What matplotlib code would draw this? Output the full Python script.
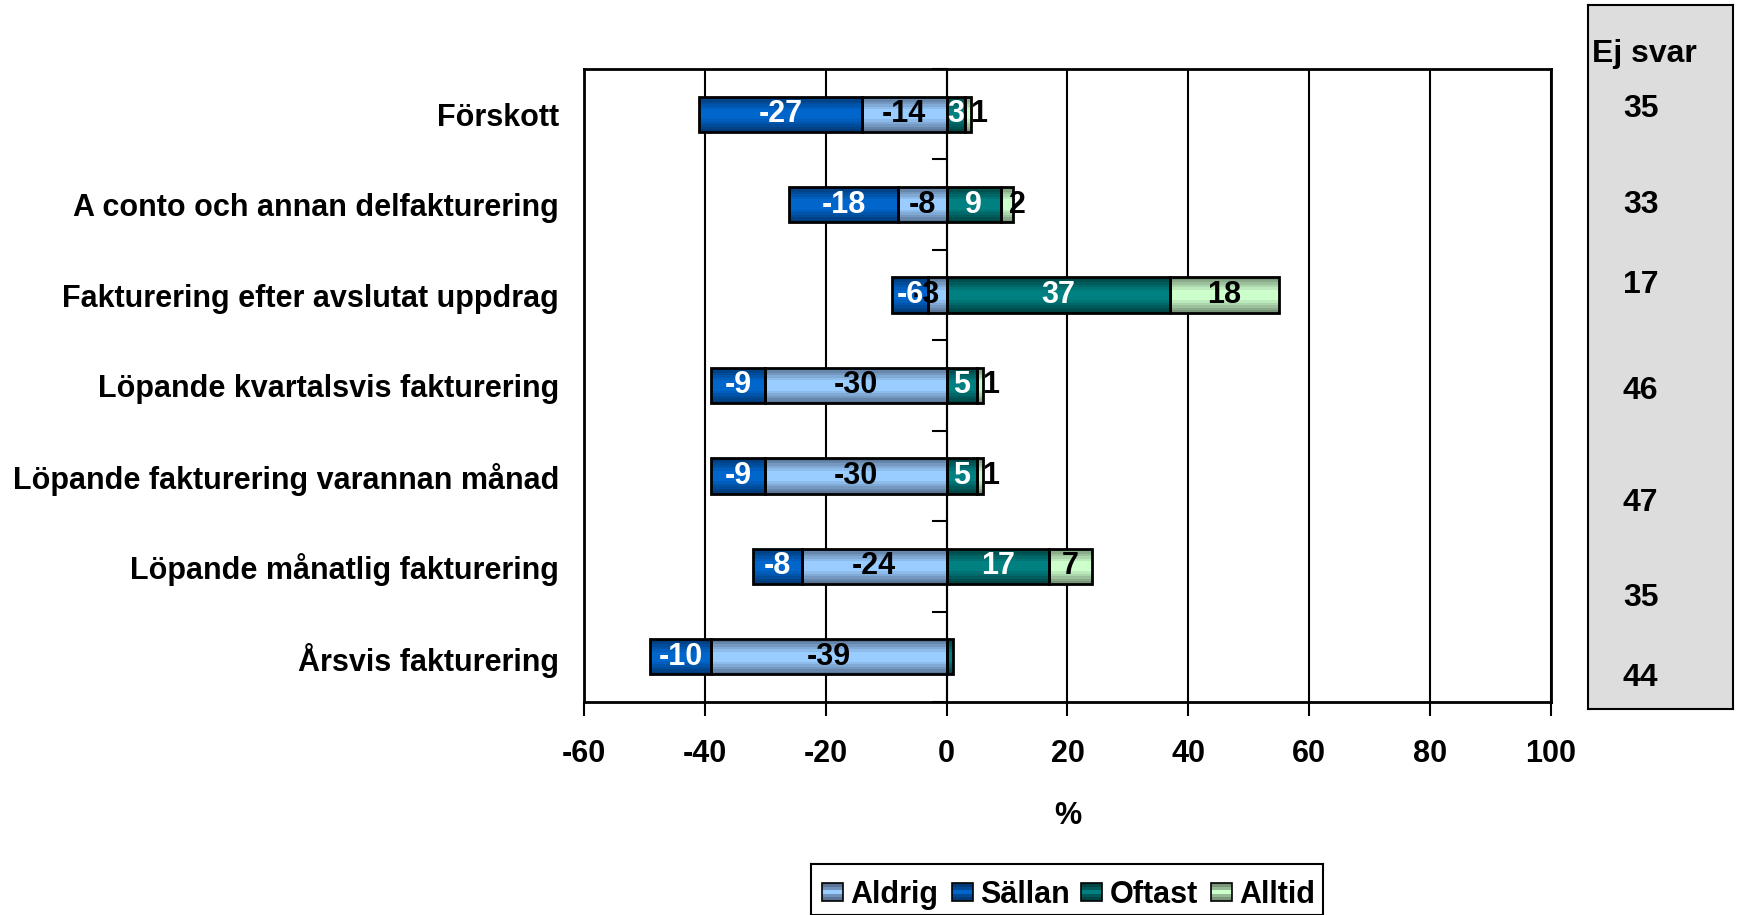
import numpy as np
import matplotlib.pyplot as plt
from matplotlib.patches import Rectangle
from matplotlib.colors import to_rgb

plt.rcParams['font.family'] = ['Liberation Sans', 'DejaVu Sans']
plt.rcParams['font.weight'] = 'bold'

categories = ['Förskott', 'A conto och annan delfakturering',
              'Fakturering efter avslutat uppdrag', 'Löpande kvartalsvis fakturering',
              'Löpande fakturering varannan månad', 'Löpande månatlig fakturering',
              'Årsvis fakturering']
aldrig = [-14, -8, -3, -30, -30, -24, -39]
sallan = [-27, -18, -6, -9, -9, -8, -10]
oftast = [3, 9, 37, 5, 5, 17, 1]
alltid = [1, 2, 18, 1, 1, 7, 0]
ej_svar = [35, 33, 17, 46, 47, 35, 44]
xticks = [-60, -40, -20, 0, 20, 40, 60, 80, 100]

# edge colour, centre colour, label colour
styles = {
    'Aldrig': ('#5b7596', '#99ccff', 'black'),
    'Sällan': ('#003a78', '#0066cc', 'white'),
    'Oftast': ('#004444', '#008080', 'white'),
    'Alltid': ('#7a967a', '#ccffcc', 'black'),
}


def shade(edge, centre, t):
    e, c = np.array(to_rgb(edge)), np.array(to_rgb(centre))
    return tuple(e + (c - e) * t)


def grad_barh(ax, y, width, left, h, name):
    edge, centre, _ = styles[name]
    steps = 6
    for i in range(steps):
        frac = 1 - i / steps * 0.85
        ax.barh(y, width, left=left, height=h * frac,
                color=shade(edge, centre, i / (steps - 1)), lw=0, zorder=3)
    ax.barh(y, width, left=left, height=h, fill=False,
            edgecolor='black', lw=2, zorder=4)


fig = plt.figure(figsize=(17.38, 9.15), dpi=100)
ax = fig.add_axes([0.336, 0.2328, 0.5564, 0.6918])

y = np.arange(len(categories))[::-1]
h = 0.39
zero = np.zeros(len(categories))
series = [('Aldrig', aldrig, zero), ('Sällan', sallan, np.array(aldrig)),
          ('Oftast', oftast, zero), ('Alltid', alltid, np.array(oftast))]

for name, vals, base in series:
    for yi, v, b in zip(y, vals, base):
        if v == 0:
            continue
        grad_barh(ax, yi, v, b, h, name)
        # the tiny Oftast sliver on the last row has no label in the original
        if name == 'Oftast' and abs(v) < 2 and yi == 0:
            continue
        xt = b + v / 2
        # small outer labels are nudged outward, as in the original
        if name in ('Aldrig', 'Alltid') and abs(v) <= 3:
            xt += 1.8 * np.sign(v)
        ax.text(xt, yi, str(v), ha='center', va='center',
                fontsize=22, fontweight='bold', color=styles[name][2], zorder=5)

ax.set_xlim(-60, 100)
ax.set_ylim(-0.5, len(categories) - 0.5)
ax.set_xticks(xticks)
ax.set_xticklabels([str(t) for t in xticks], fontsize=22, fontweight='bold')
ax.tick_params(axis='x', length=10, width=1.5, pad=17)
ax.set_yticks(y)
ax.set_yticklabels(categories, fontsize=22, fontweight='bold')
ax.tick_params(axis='y', length=0, pad=18)
ax.grid(axis='x', color='black', lw=1.5, zorder=1)
for s in ax.spines.values():
    s.set_linewidth(2)
ax.set_xlabel('%', fontsize=22, fontweight='bold', labelpad=23)

# value axis crossing at 0, with ticks between categories
sec = ax.secondary_yaxis(60 / 160)
sec.set_yticks(np.arange(len(categories) + 1) - 0.5)
sec.set_yticklabels([])
sec.tick_params(axis='y', length=11, width=1.5, direction='out')
sec.spines['left'].set_linewidth(1.5)

# "Ej svar" box
box = fig.add_axes([0.9137, 0.225, 0.0834, 0.7695])
box.set_facecolor('#dddddd')
box.set_xticks([])
box.set_yticks([])
for s in box.spines.values():
    s.set_linewidth(1.5)
fig.text(0.946, 1 - 54 / 915, 'Ej svar', ha='center', va='center',
         fontsize=23, fontweight='bold')
ej_y = [109, 205, 285, 391, 503, 598, 678]
for val, py in zip(ej_svar, ej_y):
    fig.text(0.944, 1 - py / 915, str(val), ha='center', va='center',
             fontsize=23, fontweight='bold')

# legend
lax = fig.add_axes([811 / 1738, 0.0, (1323 - 811) / 1738, (915 - 866) / 915 + 0.002])
lax.set_xlim(0, 1)
lax.set_ylim(0, 1)
lax.set_xticks([])
lax.set_yticks([])
for s in lax.spines.values():
    s.set_linewidth(1.5)
leg_x = [0.0216, 0.275, 0.528, 0.781]
for (name, _, _), lx in zip(series, leg_x):
    edge, centre, _ = styles[name]
    for i in range(4):
        pad = i * 0.07
        lax.add_patch(Rectangle((lx, 0.28 + pad), 0.041, 0.34 - 2 * pad,
                                color=shade(edge, centre, i / 3), lw=0))
    lax.add_patch(Rectangle((lx, 0.28), 0.041, 0.34, fill=False, ec='black', lw=1.2))
    lax.text(lx + 0.056, 0.40, name, ha='left', va='center',
             fontsize=22, fontweight='bold')

fig.savefig('out.png', dpi=100)
